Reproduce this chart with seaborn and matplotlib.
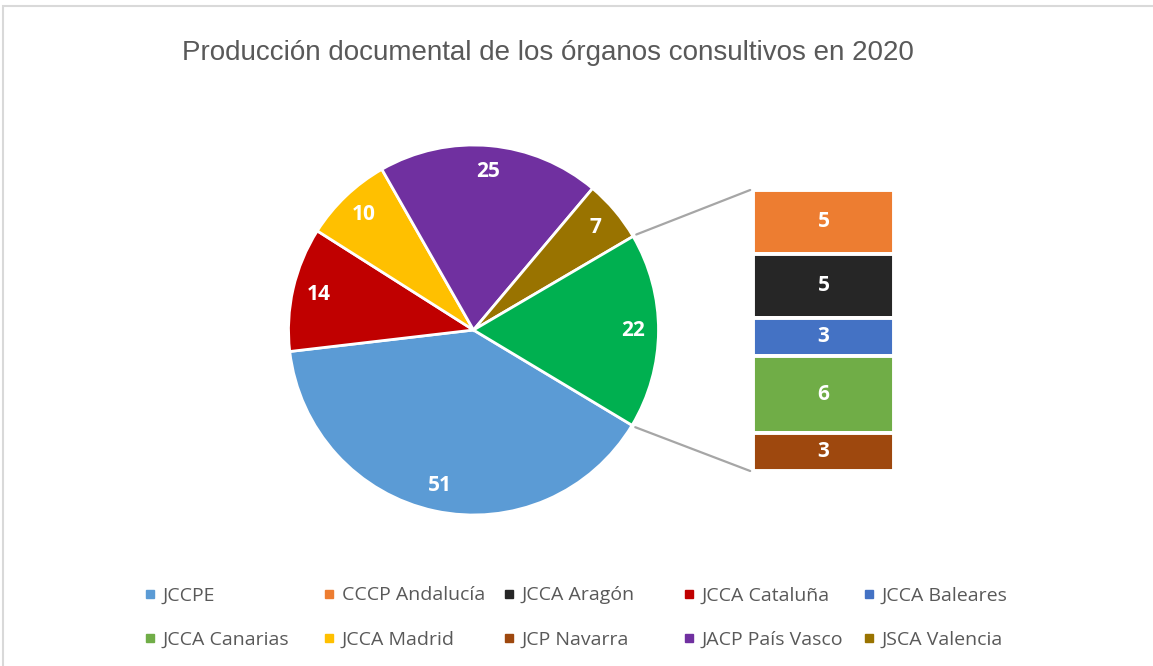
import matplotlib
matplotlib.use('Agg')
import matplotlib.pyplot as plt
from matplotlib.lines import Line2D
from matplotlib.patches import ConnectionPatch, Rectangle
import numpy as np
import pandas as pd
import seaborn as sns

# data
organos = ["JCCPE", "CCCP Andalucía", "JCCA Aragón", "JCCA Cataluña", "JCCA Baleares",
           "JCCA Canarias", "JCCA Madrid", "JCP Navarra", "JACP País Vasco", "JSCA Valencia"]
documentos = [51, 5, 5, 14, 3, 6, 10, 3, 25, 7]
colores = ["#5B9BD5", "#ED7D31", "#262626", "#C00000", "#4472C4",
           "#70AD47", "#FFC000", "#9E480E", "#7030A0", "#997300"]
en_barra = ["CCCP Andalucía", "JCCA Aragón", "JCCA Baleares", "JCCA Canarias", "JCP Navarra"]
color_otros = "#00B050"
titulo = "Producción documental de los órganos consultivos en 2020"

df = pd.DataFrame({"organo": organos, "n": documentos, "color": colores})
barra = df[df.organo.isin(en_barra)].reset_index(drop=True)
tarta = df[~df.organo.isin(en_barra)].reset_index(drop=True)
tarta = pd.concat([tarta, pd.DataFrame({"organo": ["Otros"], "n": [barra.n.sum()],
                                        "color": [color_otros]})], ignore_index=True)

sns.set_theme(style="white")
plt.rcParams['font.family'] = ['Open Sans', 'DejaVu Sans']

W, H = 1153, 666
fig = plt.figure(figsize=(W / 100, H / 100), dpi=100)


def caja(l, t, w, h):
    return [l / W, 1 - (t + h) / H, w / W, h / H]


# main pie
ax_pie = fig.add_axes(caja(473.5 - 185, 330 - 185, 370, 370))
total = tarta.n.sum()
wedges, _, autotexts = ax_pie.pie(
    tarta.n, colors=tarta.color, startangle=-31, counterclock=False,
    autopct=lambda p: f"{round(p * total / 100)}", pctdistance=0.86,
    wedgeprops=dict(edgecolor="white", linewidth=2),
    textprops=dict(color="white", fontweight="bold", fontsize=15))
ax_pie.set_xlim(-1, 1)
ax_pie.set_ylim(-1, 1)

# bar of pie
ax_bar = fig.add_axes(caja(753, 190, 141, 281))
alto = barra.n.sum()
bases = alto - barra.n.cumsum()
barras = ax_bar.bar(np.zeros(len(barra)), barra.n, bottom=bases, width=1,
                    color=barra.color, edgecolor="white", linewidth=2.8)
ax_bar.bar_label(barras, label_type="center", color="white", fontweight="bold", fontsize=15)
ax_bar.set_xlim(-0.5, 0.5)
ax_bar.set_ylim(0, alto)
ax_bar.axis("off")

# connector lines
otros = wedges[-1]
for ang, yb in [(otros.theta2, alto), (otros.theta1, 0)]:
    t = np.deg2rad(ang)
    con = ConnectionPatch(xyA=(np.cos(t) * 1.02, np.sin(t) * 1.02), coordsA=ax_pie.transData,
                          xyB=(-0.52, yb), coordsB=ax_bar.transData,
                          color="#A6A6A6", linewidth=1.6)
    fig.add_artist(con)

# title
fig.text(548 / W, 1 - 60 / H, titulo, ha="center", va="baseline", fontsize=20,
         color="#595959", family=["Liberation Sans", "DejaVu Sans"])

# legend: Excel-style equal columns, one small legend per column
handles = [Line2D([], [], marker="s", ls="", color=c, markersize=5.5) for c in df.color]
columnas_x = [146, 325, 505, 685, 865]
for j, x0 in enumerate(columnas_x):
    leg = fig.legend([handles[j], handles[j + 5]], [df.organo[j], df.organo[j + 5]],
                     loc="center left", bbox_to_anchor=((x0 - 2.5) / W, 1 - 617.5 / H),
                     frameon=False, fontsize=14, labelcolor="#595959",
                     handlelength=0.65, handletextpad=0.33, labelspacing=1.35,
                     borderaxespad=0, borderpad=0)

# chart border
fig.add_artist(Rectangle((3 / W, -0.1), 1.2, 1.1 - 6 / H, transform=fig.transFigure,
                         fill=False, edgecolor="#D9D9D9", linewidth=1.5))

fig.savefig("out.png", dpi=100)
